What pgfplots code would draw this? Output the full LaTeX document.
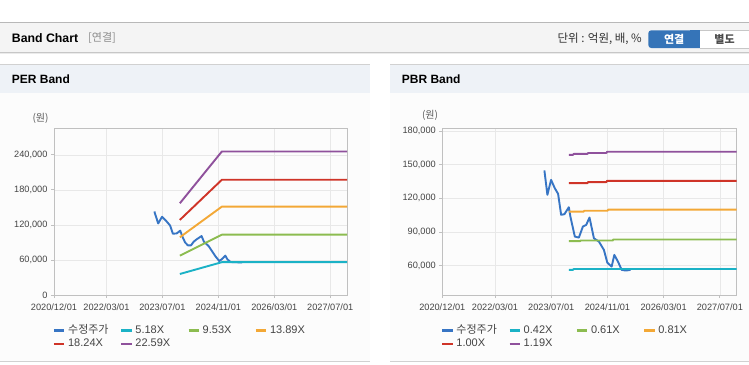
\documentclass[border=0pt]{standalone}
\usepackage{fontspec}
\setmainfont{Liberation Sans}
\newfontfamily\kr{Noto Sans CJK KR}
\usepackage{pgfplots}
\pgfplotsset{compat=1.18}

\definecolor{cPrice}{HTML}{3775C4}
\definecolor{cTeal}{HTML}{1BB2C6}
\definecolor{cGreen}{HTML}{8CBC50}
\definecolor{cOrange}{HTML}{F3A836}
\definecolor{cRed}{HTML}{CF3428}
\definecolor{cPurple}{HTML}{8F519C}
\definecolor{axc}{HTML}{C0C0C0}
\definecolor{gridc}{HTML}{E8E8E8}
\definecolor{tickc}{HTML}{444444}
\definecolor{hdrbar}{HTML}{F4F4F4}
\definecolor{panelhdr}{HTML}{EEF2F7}
\definecolor{panelbody}{HTML}{FCFCFC}
\definecolor{btnblue}{HTML}{3574B8}

\pgfplotsset{
  bandaxis/.style={
    scale only axis,
    height=167bp,
    axis line style={draw=axc, line width=0.8bp},
    grid=major,
    major grid style={draw=gridc, line width=0.7bp},
    tick pos=left,
    tick align=outside,
    major tick length=3bp,
    tick style={draw=axc, line width=0.8bp},
    xmin=0, xmax=83.8,
    xtick={0,15,31,47,63,79},
    xticklabels={2020/12/01,2022/03/01,2023/07/01,2024/11/01,2026/03/01,2027/07/01},
    ticklabel style={font=\fontsize{9.2bp}{10bp}\selectfont, text=tickc},
    xticklabel style={yshift=-2bp},
    scaled y ticks=false,
    every axis plot/.append style={line width=1.9bp, mark=none, line join=round},
    legend columns=4,
    legend cell align=left,
    legend image code/.code={\draw[#1, line width=2.3bp] (0bp,0bp) -- (10.5bp,0bp);},
    legend style={
      at={(-0.004,-0.172)}, anchor=north west,
      draw=none, fill=none, inner sep=0pt, outer sep=0pt,
      font=\fontsize{11bp}{12bp}\selectfont,
      text=tickc,
      row sep=0pt,
      nodes={inner xsep=0pt, inner ysep=1.4bp, text width=52bp, text height=8bp, text depth=2.5bp, align=left},
      /tikz/every odd column/.append style={column sep=2.5bp},
    },
  }
}

\begin{document}
\begin{tikzpicture}
\begin{scope}[x=1bp,y=-1bp,shift={(0,-364)}]
  \path[use as bounding box, fill=white] (0,0) rectangle (749,364);
  % top header bar
  \fill[hdrbar] (0,22.5) rectangle (749,52.5);
  \draw[draw=black!28, line width=1bp] (0,22.5) -- (749,22.5);
  \draw[draw=black!22, line width=1bp] (0,52.5) -- (749,52.5);
  \draw[draw=black!8, line width=1.2bp] (0,53.8) -- (749,53.8);
  \node[anchor=west, inner sep=0pt, font=\fontsize{12.3bp}{14bp}\selectfont\bfseries] at (11.7,38) {Band Chart};
  \node[anchor=west, inner sep=0pt, text=black!45, font=\fontsize{11bp}{13bp}\selectfont\kr] at (88,38) {[연결]};
  \node[anchor=east, inner sep=0pt, text=black!80, font=\fontsize{11.5bp}{13bp}\selectfont\kr] at (642,39) {단위 : 억원, 배, \%};
  % buttons
  \fill[btnblue, rounded corners=3bp] (648.3,30.3) rectangle (704,48);
  \fill[btnblue] (690,30.3) rectangle (700,48);
  \fill[white] (700,30.3) rectangle (752,48);
  \draw[draw=black!22, line width=0.8bp] (700,30.3) -- (752,30.3) (700,48) -- (752,48);
  \node[text=white, inner sep=0pt, font=\fontsize{11bp}{13bp}\selectfont\kr\bfseries] at (674.2,39.2) {연결};
  \node[text=black!70, inner sep=0pt, font=\fontsize{11bp}{13bp}\selectfont\kr\bfseries] at (724.5,39.2) {별도};
  % left panel
  \fill[panelbody] (0,92.5) rectangle (370,361);
  \fill[panelhdr] (0,64.5) rectangle (370,92.5);
  \draw[draw=black!18, line width=1bp] (0,64.5) -- (370,64.5);
  \draw[draw=black!18, line width=1bp] (0,361.5) -- (370,361.5);
  \node[anchor=west, inner sep=0pt, font=\fontsize{12bp}{14bp}\selectfont\bfseries] at (11.7,79) {PER Band};
  \node[inner sep=0pt, text=black!65, font=\fontsize{10bp}{12bp}\selectfont\kr] at (40.5,118) {(원)};
  % right panel
  \fill[panelbody] (390,92.5) rectangle (749,361);
  \fill[panelhdr] (390,64.5) rectangle (749,92.5);
  \draw[draw=black!18, line width=1bp] (390,64.5) -- (749,64.5);
  \draw[draw=black!18, line width=1bp] (390,361.5) -- (749,361.5);
  \node[anchor=west, inner sep=0pt, font=\fontsize{12bp}{14bp}\selectfont\bfseries] at (401.7,79) {PBR Band};
  \node[inner sep=0pt, text=black!65, font=\fontsize{10bp}{12bp}\selectfont\kr] at (430,115.5) {(원)};
\end{scope}

% ---------------- PER Band ----------------
\begin{axis}[bandaxis,
  at={(54bp,69bp)}, anchor=south west,
  width=293bp,
  ymin=0, ymax=286000,
  ytick={0,60000,120000,180000,240000},
  yticklabels={0,{60,000},{120,000},{180,000},{240,000}},
]
\addplot[cPrice] coordinates {
(28.7,143000)(29.8,122500)(30.9,134000)(32.2,126000)(33.2,119000)(34.0,105000)
(35.1,105500)(36.1,110200)(36.8,99000)(37.5,90000)(38.3,85000)(39.2,85000)
(39.9,91000)(40.8,95400)(42.2,101000)(42.9,91000)(44.2,84000)(45.1,76000)
(46.2,66000)(47.3,58000)(48.3,63000)(49.0,67400)(49.6,61000)(50.5,56500)(53.8,55700)};
\addlegendentry{{\kr 수정주가}}
\addplot[cTeal] coordinates {(36,36000)(48,56200)(83.8,56200)};
\addlegendentry{5.18X}
\addplot[cGreen] coordinates {(36,67400)(48,103300)(83.8,103300)};
\addlegendentry{9.53X}
\addplot[cOrange] coordinates {(36,98900)(48,151300)(83.8,151300)};
\addlegendentry{13.89X}
\addplot[cRed] coordinates {(36,128600)(48,197300)(83.8,197300)};
\addlegendentry{18.24X}
\addplot[cPurple] coordinates {(36,157100)(48,245700)(83.8,245700)};
\addlegendentry{22.59X}
\end{axis}

% ---------------- PBR Band ----------------
\begin{axis}[bandaxis,
  at={(442.3bp,69bp)}, anchor=south west,
  width=294.4bp,
  ymin=33800, ymax=182700,
  ytick={60000,90000,120000,150000,180000},
  yticklabels={{60,000},{90,000},{120,000},{150,000},{180,000}},
]
\addplot[cPrice] coordinates {
(29.06,144850)(29.91,123100)(30.96,136500)(32.0,129100)(32.96,124000)(33.82,105300)
(34.77,105900)(36.01,112100)(36.49,103200)(37.72,85900)(38.87,85000)(40.01,94800)
(40.96,96300)(41.9,102900)(43.15,84400)(44.58,81400)(46.0,74000)(46.96,62700)
(48.2,59100)(48.96,69550)(50.0,63600)(51.06,56200)(52.2,55600)(53.6,56200)};
\addlegendentry{{\kr 수정주가}}
\addplot[cTeal] coordinates {(36,56200)(37.2,56200)(37.4,57000)(83.8,57000)};
\addlegendentry{0.42X}
\addplot[cGreen] coordinates {(36,81800)(39.2,81800)(39.4,82400)(48.5,82400)(48.7,83300)(83.8,83300)};
\addlegendentry{0.61X}
\addplot[cOrange] coordinates {(36,108100)(40.2,108100)(40.4,108900)(47.0,108900)(47.2,109900)(83.8,109900)};
\addlegendentry{0.81X}
\addplot[cRed] coordinates {(36,133500)(41.3,133500)(41.5,134500)(46.7,134500)(46.9,135600)(83.8,135600)};
\addlegendentry{1.00X}
\addplot[cPurple] coordinates {(36,158800)(37.2,158800)(37.4,159600)(41.3,159600)(41.5,160400)(46.7,160400)(46.9,161500)(83.8,161500)};
\addlegendentry{1.19X}
\end{axis}
\end{tikzpicture}
\end{document}
